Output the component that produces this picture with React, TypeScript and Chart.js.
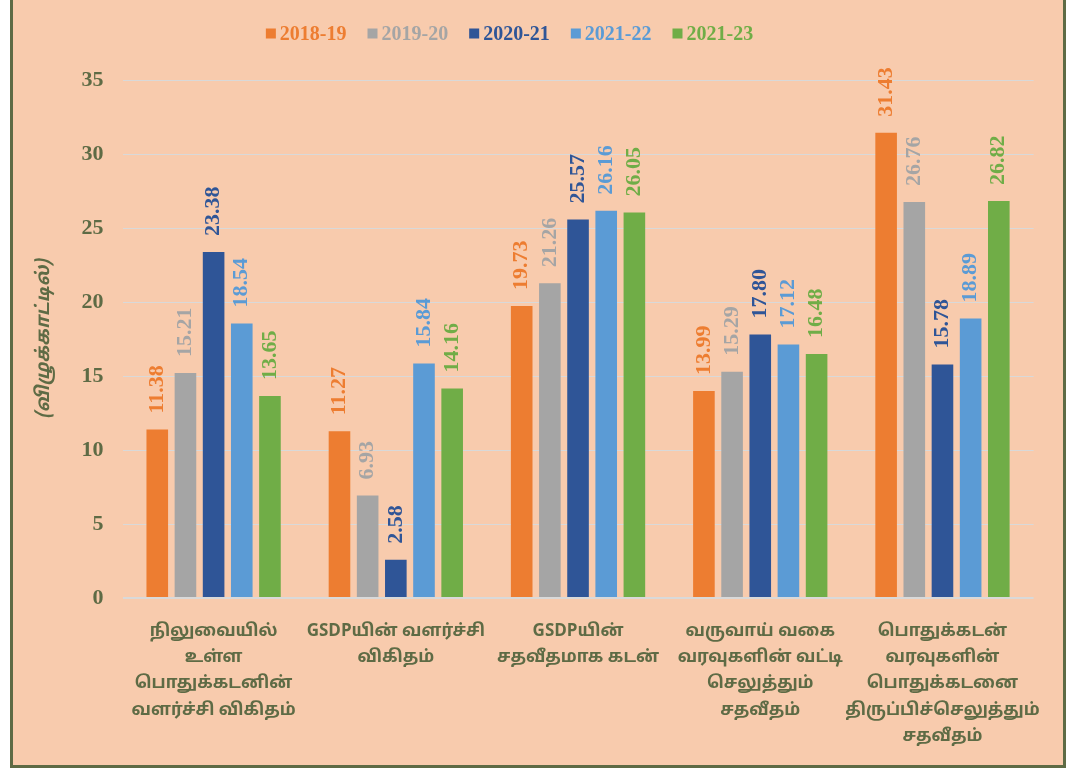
import React, { useEffect, useRef } from "react";
import { Chart, registerables } from "chart.js";

Chart.register(...registerables);

const categories: string[][] = [
  ["நிலுவையில்", "உள்ள", "பொதுக்கடனின்", "வளர்ச்சி விகிதம்"],
  ["GSDPயின் வளர்ச்சி", "விகிதம்"],
  ["GSDPயின்", "சதவீதமாக கடன்"],
  ["வருவாய் வகை", "வரவுகளின் வட்டி", "செலுத்தும்", "சதவீதம்"],
  ["பொதுக்கடன்", "வரவுகளின்", "பொதுக்கடனை", "திருப்பிச்செலுத்தும்", "சதவீதம்"],
];

const seriesNames = ["2018-19", "2019-20", "2020-21", "2021-22", "2021-23"];
const values1819 = [11.38, 11.27, 19.73, 13.99, 31.43];
const values1920 = [15.21, 6.93, 21.26, 15.29, 26.76];
const values2021 = [23.38, 2.58, 25.57, 17.8, 15.78];
const values2122 = [18.54, 15.84, 26.16, 17.12, 18.89];
const values2123 = [13.65, 14.16, 26.05, 16.48, 26.82];
const seriesColors = ["#ED7D31", "#A5A5A5", "#2F5597", "#5B9BD5", "#70AD47"];

const yTitle = "(விழுக்காட்டில்)";
const yMin = 0;
const yMax = 35;
const yStep = 5;

const OLIVE = "#5E6B45";
const SERIF = "'Liberation Serif', 'Times New Roman', serif";
const TAMIL = "'Noto Sans Tamil', 'Lohit Tamil', 'Noto Sans', sans-serif";

const valueLabels = {
  id: "valueLabels",
  afterDatasetsDraw(chart: any) {
    const ctx = chart.ctx;
    chart.data.datasets.forEach((ds: any, i: number) => {
      const meta = chart.getDatasetMeta(i);
      meta.data.forEach((bar: any, j: number) => {
        const v = ds.data[j];
        ctx.save();
        ctx.translate(bar.x, bar.y - 16);
        ctx.rotate(-Math.PI / 2);
        ctx.font = `bold 22px ${SERIF}`;
        ctx.fillStyle = ds.backgroundColor;
        ctx.textAlign = "left";
        ctx.textBaseline = "middle";
        ctx.fillText(v.toFixed(2), 0, 0);
        ctx.restore();
      });
    });
  },
};

const customLegend = {
  id: "customLegend",
  afterDraw(chart: any) {
    const ctx = chart.ctx;
    ctx.save();
    ctx.font = `bold 20px ${SERIF}`;
    const box = 10;
    const gap = 4;
    const spacing = 21;
    const widths = chart.data.datasets.map(
      (ds: any) => box + gap + ctx.measureText(ds.label).width
    );
    const total = widths.reduce((a: number, b: number) => a + b, 0) + spacing * (widths.length - 1);
    let x = 496.5 - total / 2;
    const cy = 33.5;
    chart.data.datasets.forEach((ds: any, i: number) => {
      ctx.fillStyle = ds.backgroundColor;
      ctx.fillRect(x, cy - box / 2, box, box);
      ctx.textAlign = "left";
      ctx.textBaseline = "middle";
      ctx.fillText(ds.label, x + box + gap, cy + 1);
      x += widths[i] + spacing;
    });
    ctx.restore();
  },
};

export default function App() {
  const canvasRef = useRef<HTMLCanvasElement | null>(null);

  useEffect(() => {
    if (!canvasRef.current) return;
    const allValues = [values1819, values1920, values2021, values2122, values2123];
    const chart = new Chart(canvasRef.current, {
      type: "bar",
      data: {
        labels: categories,
        datasets: seriesNames.map((name, i) => ({
          label: name,
          data: allValues[i],
          backgroundColor: seriesColors[i],
          borderWidth: 0,
          categoryPercentage: 0.773,
          barPercentage: 0.767,
        })),
      },
      options: {
        responsive: false,
        animation: false,
        layout: { padding: { top: 80, left: 0, right: 23, bottom: 0 } },
        plugins: {
          legend: { display: false },
          tooltip: { enabled: false },
        },
        scales: {
          x: {
            grid: { display: false, drawTicks: false },
            border: { display: false },
            ticks: {
              color: OLIVE,
              font: { family: TAMIL, size: 17, weight: "bold", lineHeight: 1.55 },
              padding: 21,
              maxRotation: 0,
              autoSkip: false,
            },
            afterFit(scale: any) {
              scale.height = 167;
            },
          },
          y: {
            min: yMin,
            max: yMax,
            grid: {
              color: "#D9D9D9",
              lineWidth: (c: any) => (c.tick && c.tick.value === 0 ? 2 : 1),
              drawTicks: false,
            },
            border: { display: false },
            ticks: {
              stepSize: yStep,
              color: OLIVE,
              font: { family: SERIF, size: 22, weight: "bold" },
              padding: 19,
            },
            title: {
              display: true,
              text: yTitle,
              color: OLIVE,
              font: { family: TAMIL, size: 18.5, weight: "bold", style: "italic", lineHeight: 1.2 },
              padding: { top: 21, bottom: 0 },
            },
            afterFit(scale: any) {
              scale.width = 109.5;
            },
          },
        },
      },
      plugins: [valueLabels, customLegend],
    });
    return () => chart.destroy();
  }, []);

  return (
    <div
      style={{
        position: "absolute",
        left: 10,
        top: -3,
        width: 1050,
        height: 765,
        background: "#F8CBAD",
        border: `3px solid ${OLIVE}`,
      }}
    >
      <canvas ref={canvasRef} width={1050} height={765} style={{ display: "block" }} />
    </div>
  );
}
